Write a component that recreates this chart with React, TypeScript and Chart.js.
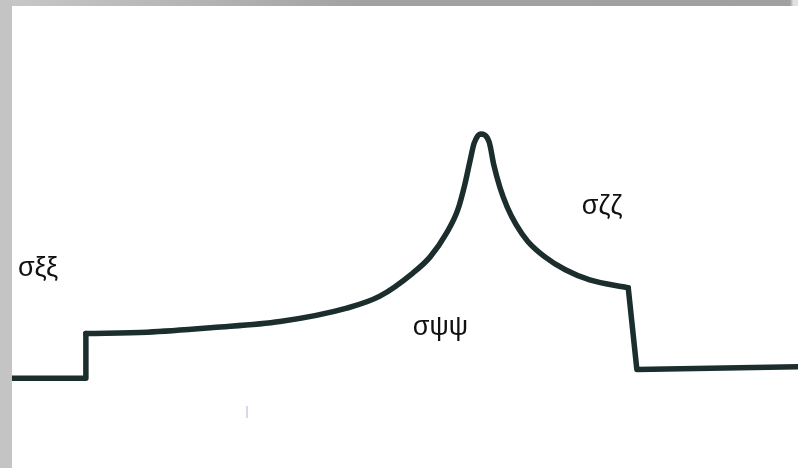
import React, { useEffect, useRef } from "react";
import { Chart, registerables } from "chart.js";

Chart.register(...registerables);

// Powder-pattern lineshape, x = shift position (0..100), y = intensity (0..100)
const leftStepX = [0, 9.3, 9.4];
const leftStepY = [19.4, 19.4, 29.1];

const bandX = [9.4, 17.2, 25.6, 34.1, 42.6, 46.8, 51.0, 53.2, 55.3, 56.7, 57.6, 58.3, 58.8, 59.6, 60.7, 61.3, 62.1, 63.0, 64.1, 65.6, 67.8, 70.4, 73.5, 78.4];
const bandY = [29.1, 29.4, 30.4, 31.7, 34.6, 37.2, 42.2, 45.7, 50.9, 55.8, 61.3, 66.7, 70.3, 72.3, 70.6, 65.6, 60.6, 56.5, 52.8, 49.1, 45.7, 42.9, 40.7, 39.0];

const rightStepX = [78.4, 79.5, 100];
const rightStepY = [39.0, 21.3, 21.9];

const peakLabels = ["σξξ", "σψψ", "σζζ"];
const labelX = [0.75, 51.0, 72.5];
const labelY = [41.6, 28.8, 55.0];

const markerX = 29.9;
const markerYTop = 13.4;
const markerYBottom = 10.8;

const LINE = "#1b2d2d";

const toPoints = (xs: number[], ys: number[]) => xs.map((x, i) => ({ x, y: ys[i] }));

const labelPlugin = {
  id: "peakLabels",
  afterDatasetsDraw(chart: any) {
    const { ctx, scales } = chart;
    const xs = scales.x;
    const ys = scales.y;
    ctx.save();
    ctx.fillStyle = "#111";
    ctx.font = '27px "Liberation Sans", Arial, sans-serif';
    ctx.textAlign = "left";
    ctx.textBaseline = "alphabetic";
    peakLabels.forEach((t, i) => {
      ctx.fillText(t, xs.getPixelForValue(labelX[i]), ys.getPixelForValue(labelY[i]));
    });
    ctx.strokeStyle = "#c4cde0";
    ctx.lineWidth = 1.5;
    ctx.beginPath();
    ctx.moveTo(xs.getPixelForValue(markerX), ys.getPixelForValue(markerYTop));
    ctx.lineTo(xs.getPixelForValue(markerX), ys.getPixelForValue(markerYBottom));
    ctx.stroke();
    ctx.restore();
  },
};

export default function App() {
  const ref = useRef<HTMLCanvasElement | null>(null);

  useEffect(() => {
    if (!ref.current) return;
    const common = {
      borderColor: LINE,
      borderWidth: 5.5,
      pointRadius: 0,
      fill: false,
      borderCapStyle: "round" as const,
      borderJoinStyle: "round" as const,
    };
    const chart = new Chart(ref.current, {
      type: "line",
      data: {
        datasets: [
          { ...common, data: toPoints(leftStepX, leftStepY), tension: 0 },
          { ...common, data: toPoints(bandX, bandY), cubicInterpolationMode: "monotone" as const },
          { ...common, data: toPoints(rightStepX, rightStepY), tension: 0 },
        ],
      },
      options: {
        animation: false,
        responsive: false,
        maintainAspectRatio: false,
        layout: { padding: 0 },
        plugins: { legend: { display: false }, tooltip: { enabled: false } },
        scales: {
          x: { type: "linear", min: 0, max: 100, display: false },
          y: { type: "linear", min: 0, max: 100, display: false },
        },
      },
      plugins: [labelPlugin],
    });
    return () => chart.destroy();
  }, []);

  return (
    <div style={{ position: "fixed", left: 0, top: 0, width: 798, height: 468, background: "#fff", overflow: "hidden" }}>
      <div
        style={{
          position: "absolute",
          left: 0,
          top: 0,
          width: 798,
          height: 6,
          background: "linear-gradient(90deg, #c8c8c8 0%, #b4b4b4 25%, #a2a2a2 45%, #a0a0a0 99%, #e0e0e0 99.4%)",
        }}
      />
      <div style={{ position: "absolute", left: 0, top: 0, width: 12, height: 468, background: "#c4c4c4" }} />
      <canvas ref={ref} width={786} height={462} style={{ position: "absolute", left: 12, top: 6, display: "block" }} />
    </div>
  );
}
